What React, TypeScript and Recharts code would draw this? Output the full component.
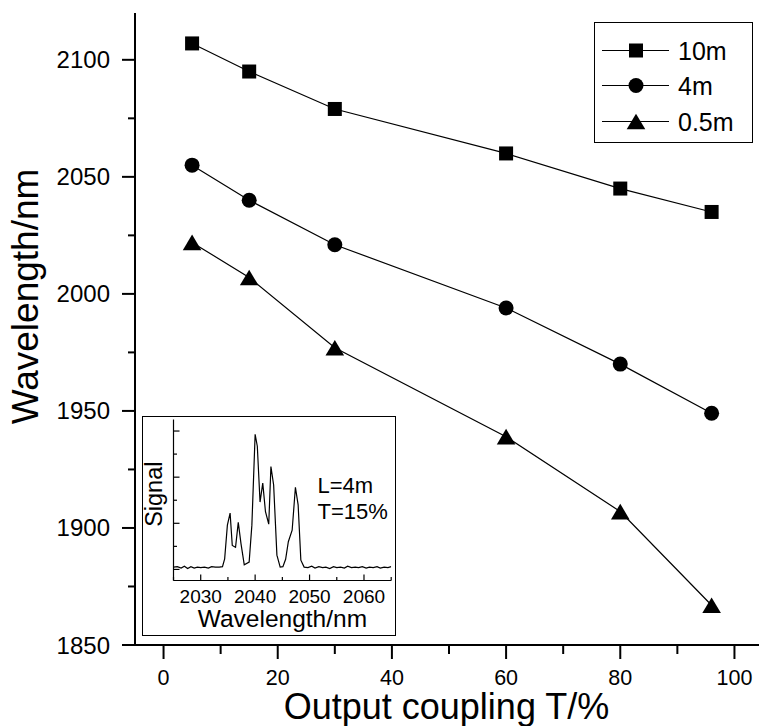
import React from 'react'
import { LineChart, Line, XAxis, YAxis, Legend } from 'recharts'

// main plot: output coupling (%) vs lasing wavelength (nm) for three fibre lengths
const coupling = [5, 15, 30, 60, 80, 96]
const wl10m = [2107, 2095, 2079, 2060, 2045, 2035]
const wl4m = [2055, 2040, 2021, 1994, 1970, 1949]
const wl05m = [2022, 2007, 1977, 1939, 1907, 1867]
const seriesNames = ['10m', '4m', '0.5m']
const seriesShapes = ['square', 'circle', 'triangle']

const xTicks = [0, 10, 20, 30, 40, 50, 60, 70, 80, 90, 100]
const yTicks = [1850, 1875, 1900, 1925, 1950, 1975, 2000, 2025, 2050, 2075, 2100]

// inset: spectrum at L=4m, T=15%
const insetWavelength = [
  2025, 2025.7, 2026.4, 2027, 2027.6, 2028.2, 2028.8, 2029.4, 2030, 2030.7, 2031.4, 2032, 2032.7, 2033.4,
  2034, 2034.4, 2034.9, 2035.4, 2035.8, 2036.4, 2036.9, 2037.4, 2038, 2038.9, 2039.4, 2040, 2040.4, 2040.9,
  2041.4, 2041.9, 2042.5, 2042.9, 2043.4, 2044, 2044.6, 2045.1, 2045.6, 2046.1, 2046.8, 2047.4, 2047.9, 2048.4, 2049,
  2049.7, 2050.4, 2051, 2051.7, 2052.4, 2053, 2053.7, 2054.4, 2055, 2055.7, 2056.4, 2057, 2057.7, 2058.4,
  2059, 2059.7, 2060.4, 2061, 2061.7, 2062.4, 2063, 2063.7, 2064.4, 2065,
]
const insetSignal = [
  0.05, 0.06, 0.03, 0.07, 0.02, 0.06, 0.03, 0.05, 0.04, 0.05, 0.03, 0.06, 0.05, 0.05,
  0.06, 0.23, 0.96, 1.22, 0.52, 0.48, 1.02, 0.56, 0.1, 0.16, 0.96, 2.93, 2.67, 1.46,
  1.87, 1.25, 0.98, 2.23, 1.83, 0.31, 0.05, 0.06, 0.22, 0.6, 0.85, 1.78, 1.4, 0.2, 0.05,
  0.04, 0.07, 0.03, 0.06, 0.04, 0.05, 0.02, 0.06, 0.04, 0.05, 0.03, 0.07, 0.04, 0.05,
  0.04, 0.06, 0.03, 0.05, 0.04, 0.06, 0.03, 0.05, 0.04, 0.06,
]
const insetXTicks = [2025, 2030, 2035, 2040, 2045, 2050, 2055, 2060, 2065]
const insetYTicks = [0, 0.5, 1, 1.5, 2, 2.5, 3]

const FONT = '"Liberation Sans", Arial, Helvetica, sans-serif'

const mainData = coupling.map((T, i) => ({ T, s0: wl10m[i], s1: wl4m[i], s2: wl05m[i] }))
const insetData = insetWavelength.map((w, i) => ({ w, v: insetSignal[i] }))

function Marker({ shape, cx, cy }: { shape: string; cx: number; cy: number }) {
  if (shape === 'square') return <rect x={cx - 7} y={cy - 7} width={14} height={14} fill="#000" />
  if (shape === 'circle') return <circle cx={cx} cy={cy} r={7.5} fill="#000" />
  return <polygon points={`${cx},${cy - 7.8} ${cx + 9.3},${cy + 7.8} ${cx - 9.3},${cy + 7.8}`} fill="#000" />
}

function MainYTick({ x, y, payload }: any) {
  const major = payload.value % 50 === 0
  return (
    <g>
      <line x1={x} x2={x - (major ? 13 : 7)} y1={y} y2={y} stroke="#000" strokeWidth={2} />
      {major && (
        <text x={x - 25} y={y + 8.5} textAnchor="end" fontSize={24} fontFamily={FONT} fill="#000">
          {payload.value}
        </text>
      )}
    </g>
  )
}

function MainXTick({ x, y, payload }: any) {
  const major = payload.value % 20 === 0
  return (
    <g>
      <line x1={x} x2={x} y1={y} y2={y + (major ? 14 : 9)} stroke="#000" strokeWidth={2} />
      {major && (
        <text x={x} y={y + 40} textAnchor="middle" fontSize={21.5} fontFamily={FONT} fill="#000">
          {payload.value}
        </text>
      )}
    </g>
  )
}

function TopTick({ x, y, payload }: any) {
  const major = payload.value % 20 === 0
  return <line x1={x} x2={x} y1={y} y2={y + (major ? 8 : 5)} stroke="#000" strokeWidth={2} />
}

function InsetXTick({ x, y, payload }: any) {
  const major = payload.value % 10 === 0
  return (
    <g>
      <line x1={x} x2={x} y1={y} y2={y - (major ? 6 : 3.5)} stroke="#000" strokeWidth={1.2} />
      {major && (
        <text x={x} y={y + 22} textAnchor="middle" fontSize={19} fontFamily={FONT} fill="#000">
          {payload.value}
        </text>
      )}
    </g>
  )
}

function InsetYTick({ x, y, payload }: any) {
  const major = Number.isInteger(payload.value)
  return <line x1={x} x2={x + (major ? 6 : 3.5)} y1={y} y2={y} stroke="#000" strokeWidth={1.2} />
}

function LegendBox() {
  const rows = [29, 64, 100]
  return (
    <div style={{ width: 159, height: 121, boxSizing: 'border-box', border: '1.5px solid #000', background: '#fff' }}>
      <svg width={156} height={118}>
        {seriesNames.map((name, i) => (
          <g key={name}>
            <line x1={7} x2={74} y1={rows[i] - 1.5} y2={rows[i] - 1.5} stroke="#000" strokeWidth={1.2} />
            <Marker shape={seriesShapes[i]} cx={41} cy={rows[i] - 1.5} />
            <text x={83} y={rows[i] + 7.5} fontSize={25} fontFamily={FONT} fill="#000">{name}</text>
          </g>
        ))}
      </svg>
    </div>
  )
}

function Inset() {
  return (
    <div style={{ position: 'absolute', left: 142, top: 416, width: 252, height: 218, border: '1.5px solid #000', background: '#fff' }}>
      <LineChart width={252} height={218} data={insetData} margin={{ top: 2.5, right: 3.8, bottom: 0, left: 0 }}>
        <XAxis
          dataKey="w"
          type="number"
          domain={[2025, 2065]}
          allowDataOverflow
          ticks={insetXTicks}
          interval={0}
          tickSize={0}
          tickMargin={0}
          tickLine={false}
          height={54.5}
          axisLine={{ stroke: '#000', strokeWidth: 1.2 }}
          tick={<InsetXTick />}
          label={() => (
            <text x={139.4} y={209.8} textAnchor="middle" fontSize={24.5} fontFamily={FONT} fill="#000">
              Wavelength/nm
            </text>
          )}
        />
        <YAxis
          type="number"
          domain={[-0.24, 3.25]}
          allowDataOverflow
          ticks={insetYTicks}
          interval={0}
          tickSize={0}
          tickMargin={0}
          tickLine={false}
          width={30.5}
          axisLine={{ stroke: '#000', strokeWidth: 1.2 }}
          tick={<InsetYTick />}
          label={() => (
            <g fontFamily={FONT} fill="#000">
              <text x={19.5} y={77.2} textAnchor="middle" fontSize={23.5} transform="rotate(-90 19.5 77.2)">
                Signal
              </text>
              <text x={174.5} y={75.8} fontSize={22}>L=4m</text>
              <text x={174.5} y={101.8} fontSize={22}>T=15%</text>
            </g>
          )}
        />
        <Line type="linear" dataKey="v" stroke="#000" strokeWidth={1.2} dot={false} isAnimationActive={false} />
      </LineChart>
    </div>
  )
}

export default function App() {
  const keys = ['s0', 's1', 's2']
  return (
    <div style={{ position: 'absolute', left: 0, top: 0, width: 759, height: 726, overflow: 'hidden', background: '#fff' }}>
      <LineChart width={775} height={726} data={mainData} margin={{ top: 13, right: 12, bottom: 0, left: 0 }}>
        <XAxis
          dataKey="T"
          type="number"
          domain={[-5, 105]}
          allowDataOverflow
          ticks={xTicks}
          interval={0}
          tickSize={0}
          tickMargin={0}
          tickLine={false}
          height={81}
          axisLine={{ stroke: '#000', strokeWidth: 2 }}
          tick={<MainXTick />}
          label={() => (
            <text x={446.5} y={718.5} textAnchor="middle" fontSize={36} fontFamily={FONT} fill="#000">
              Output coupling T/%
            </text>
          )}
        />
        <XAxis
          xAxisId="top"
          orientation="top"
          type="number"
          domain={[-5, 105]}
          allowDataOverflow
          ticks={xTicks}
          interval={0}
          tickSize={0}
          tickMargin={0}
          tickLine={false}
          height={0}
          axisLine={{ stroke: '#000', strokeWidth: 2 }}
          tick={<TopTick />}
        />
        <YAxis
          type="number"
          domain={[1850, 2120]}
          allowDataOverflow
          ticks={yTicks}
          interval={0}
          tickSize={0}
          tickMargin={0}
          tickLine={false}
          width={135}
          axisLine={{ stroke: '#000', strokeWidth: 2 }}
          tick={<MainYTick />}
          label={() => (
            <text x={37.5} y={296.5} textAnchor="middle" fontSize={37} fontFamily={FONT} fill="#000" transform="rotate(-90 37.5 296.5)">
              Wavelength/nm
            </text>
          )}
        />
        <Legend
          layout="vertical"
          align="center"
          verticalAlign="middle"
          wrapperStyle={{ left: 594, top: 22, width: 159, height: 121 }}
          content={() => <LegendBox />}
        />
        {keys.map((k, i) => (
          <Line
            key={k}
            type="linear"
            dataKey={k}
            name={seriesNames[i]}
            stroke="#000"
            strokeWidth={1.2}
            isAnimationActive={false}
            dot={(p: any) => <Marker key={`${k}-${p.index}`} shape={seriesShapes[i]} cx={p.cx} cy={p.cy} />}
          />
        ))}
      </LineChart>
      <Inset />
    </div>
  )
}
